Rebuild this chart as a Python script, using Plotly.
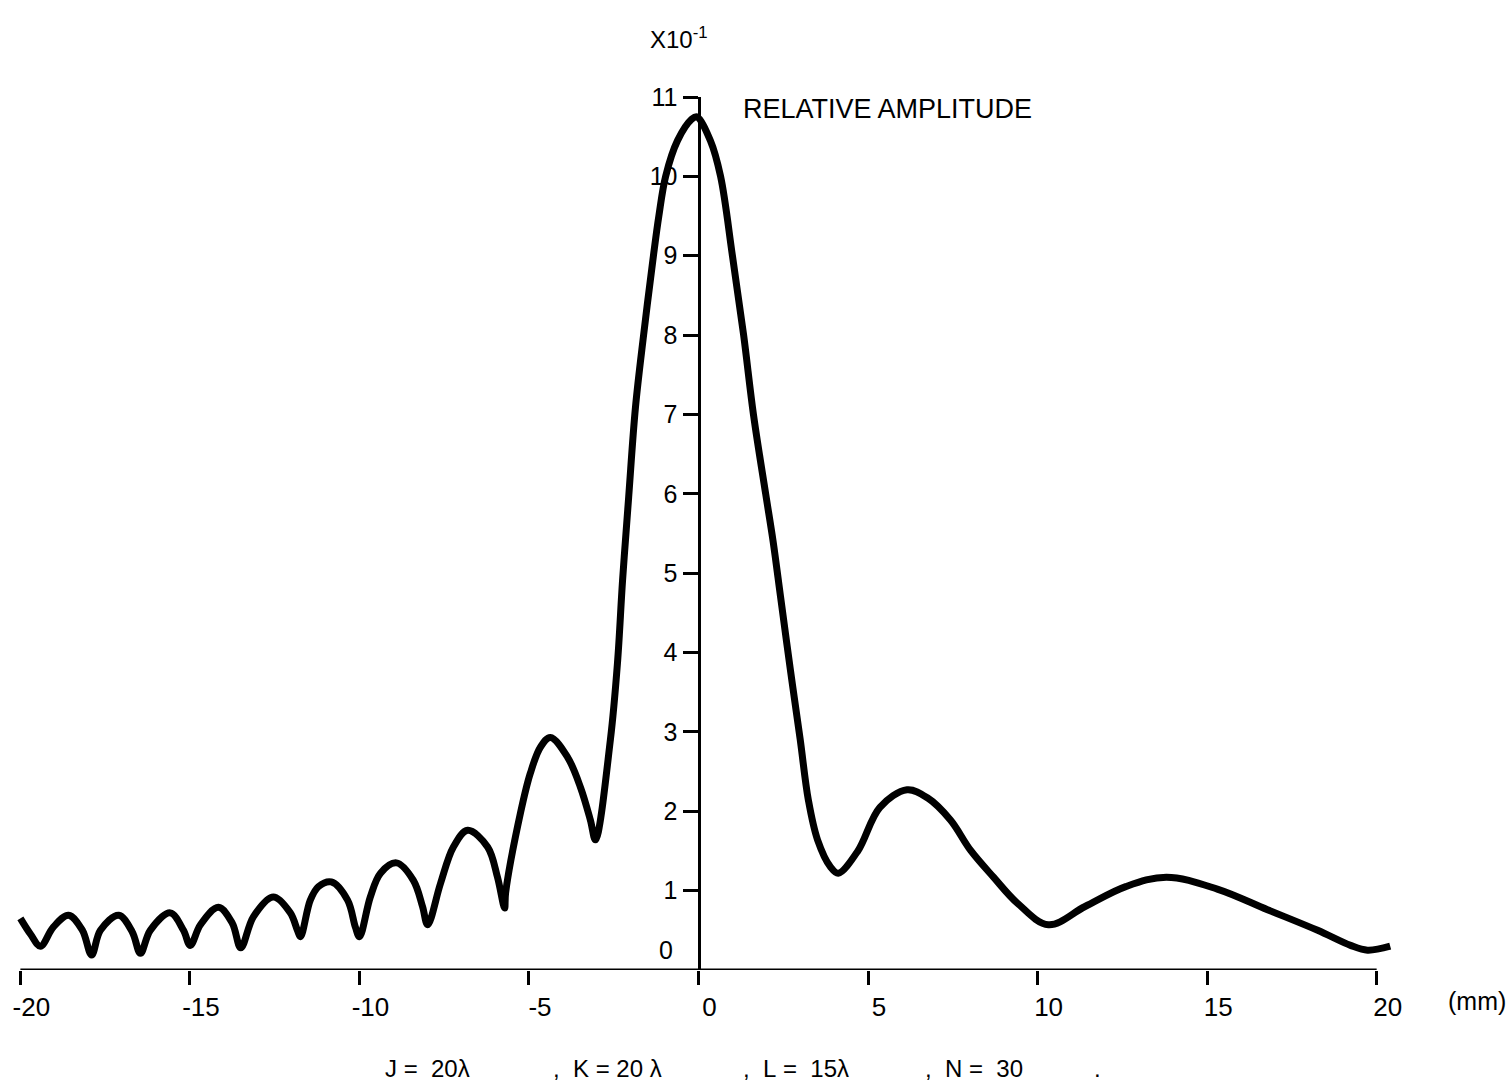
import plotly.graph_objects as go

# ---- data (x in mm, amplitude in units of 10^-1) ----
x_mm = [-20.0, -19.7, -19.41, -19.03, -18.58, -18.17, -17.9, -17.64, -17.1, -16.70, -16.46,
        -16.17, -15.58, -15.19, -14.99, -14.69, -14.16, -13.75, -13.5, -13.13, -12.54,
        -12.04, -11.83, -11.74, -11.45, -11.21, -10.83, -10.35, -10.12, -10.0, -9.68,
        -9.38, -8.91, -8.41, -8.14, -7.99, -7.61, -7.23, -6.81, -6.22, -5.93, -5.72,
        -5.69, -5.25, -4.96, -4.66, -4.37, -3.86, -3.48, -3.19, -3.04,
        -2.6, -2.39, -2.24, -2.06, -1.86, -1.62, -1.33, -1.17, -0.97, -0.62, -0.2, -0.05,
        0.35, 0.65, 1.0, 1.33, 1.62, 1.98, 2.2, 2.42, 2.71, 3.0, 3.24,
        3.51, 3.89, 4.12, 4.7, 5.35, 6.15, 6.75, 7.43, 8.02, 8.7, 9.41, 10.32, 11.4,
        12.6, 13.8, 15.3, 16.78, 18.26, 19.23, 19.73, 20.4]
amplitude = [0.65, 0.45, 0.30, 0.54, 0.69, 0.50, 0.19, 0.50, 0.69, 0.48, 0.21,
             0.50, 0.72, 0.50, 0.31, 0.57, 0.79, 0.59, 0.28, 0.67, 0.92,
             0.72, 0.50, 0.42, 0.88, 1.05, 1.11, 0.88, 0.54, 0.42, 0.92,
             1.22, 1.35, 1.13, 0.80, 0.57, 1.09, 1.55, 1.76, 1.55, 1.17, 0.78,
             0.97, 1.98, 2.48, 2.81, 2.93, 2.68, 2.30, 1.89, 1.64,
             2.90, 3.87, 4.91, 5.96, 7.09, 8.0, 9.0, 9.5, 10.0, 10.45, 10.72, 10.75,
             10.45, 10.0, 9.0, 8.0, 7.0, 6.0, 5.4, 4.70, 3.78, 2.90, 2.14,
             1.64, 1.30, 1.22, 1.50, 2.05, 2.27, 2.17, 1.89, 1.51, 1.17, 0.84, 0.57, 0.80,
             1.05, 1.17, 1.02, 0.76, 0.50, 0.31, 0.25, 0.30]

x_ticks = [-20, -15, -10, -5, 0, 5, 10, 15, 20]
x_tick_labels = ["-20", "-15", "-10", "-5", "0", "5", "10", "15", "20"]
y_ticks = [1, 2, 3, 4, 5, 6, 7, 8, 9, 10, 11]
y_tick_labels = ["1", "2", "3", "4", "5", "6", "7", "8", "9", "10", "11"]
x_range = [-20.1, 20.6]
y_range = [0, 11]

W, H = 1511, 1088
L, R, T, B = 17, 114, 97, 118
PW, PH = W - L - R, H - T - B


def px(xp):
    return (xp - L) / PW


def py(yp):
    return (H - B - yp) / PH


FONT = "Liberation Sans"

fig = go.Figure()
fig.add_trace(go.Scatter(
    x=x_mm, y=amplitude, mode="lines",
    line=dict(color="black", width=7, shape="spline", smoothing=1.0),
    hoverinfo="skip", showlegend=False,
))

y_pos = (0 - x_range[0]) / (x_range[1] - x_range[0])

fig.update_layout(
    width=W, height=H,
    margin=dict(l=L, r=R, t=T, b=B, pad=0),
    paper_bgcolor="white", plot_bgcolor="white",
    font=dict(family=FONT, color="black", size=26),
    xaxis=dict(range=x_range, tickvals=x_ticks, ticktext=x_tick_labels,
               showline=False, showgrid=False, zeroline=False,
               ticks="outside", ticklen=14, tickwidth=3, tickcolor="black",
               ticklabelshift=11, tickfont=dict(size=26, family=FONT)),
    yaxis=dict(range=y_range, tickvals=y_ticks, ticktext=y_tick_labels,
               anchor="free", position=y_pos,
               showline=True, linewidth=3, linecolor="black",
               showgrid=False, zeroline=False,
               ticks="outside", ticklen=15, tickwidth=3, tickcolor="black",
               tickfont=dict(size=25, family=FONT)),
)

# x-axis baseline from -20 to 20
fig.add_shape(type="line", xref="x", yref="y", x0=x_ticks[0], x1=x_ticks[-1], y0=0, y1=0,
              line=dict(color="black", width=3))

ann = []
ann.append(dict(text="X10<sup>-1</sup>", x=px(648), y=py(38), xanchor="left", yanchor="middle",
                font=dict(size=24)))
ann.append(dict(text="RELATIVE AMPLITUDE", x=px(741), y=py(109), xanchor="left", yanchor="middle",
                font=dict(size=27)))
ann.append(dict(text="0", x=px(675), y=py(950), xanchor="right", yanchor="middle",
                font=dict(size=25)))
ann.append(dict(text="(mm)", x=px(1446), y=py(1001), xanchor="left", yanchor="middle",
                font=dict(size=25)))
NB = "\u00a0"
bottom = [
    ("J" + NB + "=" + NB + NB + "20λ", 383),
    ("," + NB + NB + "K" + NB + "=" + NB + "20" + NB + "λ", 551),
    ("," + NB + NB + "L" + NB + "=" + NB + NB + "15λ", 741),
    ("," + NB + NB + "N" + NB + "=" + NB + NB + "30", 923),
    (".", 1092),
]
for txt, xp in bottom:
    ann.append(dict(text=txt, x=px(xp), y=py(1068), xanchor="left", yanchor="middle",
                    font=dict(size=24)))
for a in ann:
    a.update(xref="paper", yref="paper", showarrow=False)
fig.update_layout(annotations=ann)

fig.write_html("out.html", config={"displayModeBar": False},
               post_script="document.body.style.margin='0';document.body.style.overflow='hidden';")
